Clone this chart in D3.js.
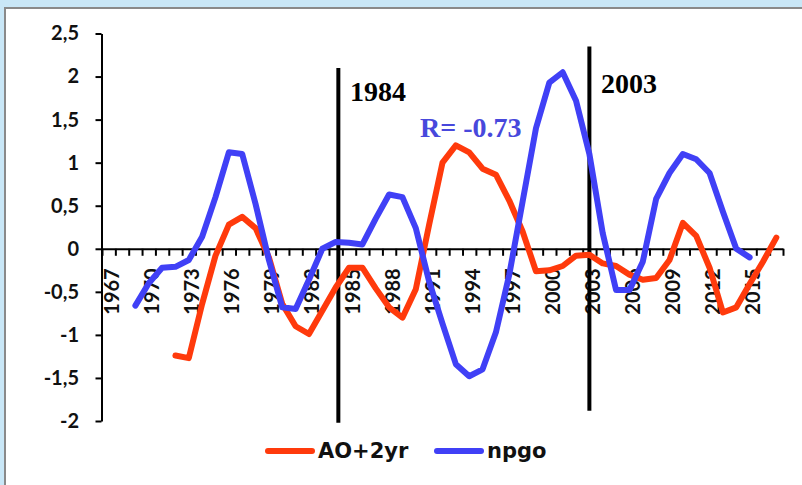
<!DOCTYPE html>
<html>
<head>
<meta charset="utf-8">
<script src="https://cdn.jsdelivr.net/npm/d3@7"></script>
<style>
  html, body { margin: 0; padding: 0; background: #c9e7f7; overflow: hidden; }
  svg { display: block; }
</style>
</head>
<body>
<svg id="chart" width="802" height="485"></svg>
<script>
// years on the category axis
const years = d3.range(1967, 2018);
const labelYears = d3.range(1967, 2016, 3);

// AO shifted by 2 years (starts 1972)
const ao2yr = [null, null, null, null, null,
  -1.24, -1.27, -0.64, -0.08, 0.28, 0.37, 0.24, -0.1, -0.64, -0.9,
  -0.99, -0.72, -0.45, -0.22, -0.22, -0.46, -0.68, -0.8, -0.47, 0.28,
  1.0, 1.2, 1.12, 0.93, 0.86, 0.56, 0.2, -0.26, -0.25, -0.2,
  -0.08, -0.07, -0.17, -0.2, -0.3, -0.36, -0.34, -0.13, 0.3, 0.15,
  -0.22, -0.74, -0.68, -0.41, -0.15, 0.13];

// npgo (1969 - 2015)
const npgo = [null, null,
  -0.66, -0.4, -0.22, -0.21, -0.13, 0.14, 0.6, 1.12, 1.1, 0.52,
  -0.13, -0.68, -0.7, -0.36, 0.0, 0.08, 0.07, 0.05, 0.35, 0.63,
  0.6, 0.24, -0.38, -0.87, -1.34, -1.48, -1.4, -0.97, -0.3, 0.55,
  1.4, 1.93, 2.05, 1.72, 1.1, 0.18, -0.48, -0.48, -0.15, 0.58,
  0.88, 1.1, 1.04, 0.88, 0.43, 0.0, -0.1, null, null];

const yTicks = [-2, -1.5, -1, -0.5, 0, 0.5, 1, 1.5, 2, 2.5];

// hand drawn break lines: year, top value, bottom value
const breakYears = [1984.2, 2003];
const breakTop = [2.1, 2.35];
const breakBottom = [-2.02, -1.88];

const red = "#ff3a0c", blue = "#4040f6";

const svg = d3.select("#chart");

// white panel
svg.append("rect")
  .attr("x", 5).attr("y", 8)
  .attr("width", 810).attr("height", 490)
  .attr("fill", "#fff")
  .attr("stroke", "#8a8a8a").attr("stroke-width", 2);

const x = d3.scaleLinear().domain([1966.5, 2017.5]).range([102, 783]);
const y = d3.scaleLinear().domain([-2, 2.5]).range([421, 33.5]);

const loc = d3.formatLocale({decimal: ",", thousands: ".", grouping: [3], currency: ["", ""], minus: "-"});
const fmt = loc.format("~g");

// y axis
const gy = svg.append("g")
  .attr("transform", "translate(101.5,0)")
  .call(d3.axisLeft(y).tickValues(yTicks).tickSize(6).tickSizeOuter(0).tickPadding(16.5).tickFormat(fmt));
gy.selectAll("path, line").attr("stroke", "#000").attr("stroke-width", 2);
gy.selectAll("text")
  .style("font-family", "Lato, 'Open Sans', sans-serif")
  .style("font-weight", "bold")
  .style("font-size", "20px")
  .attr("fill", "#111");

// x axis ticks at year boundaries
const gx = svg.append("g")
  .attr("transform", "translate(0," + y(0) + ")")
  .call(d3.axisBottom(x).tickValues(d3.range(1966.5, 2018, 1)).tickSize(7).tickSizeOuter(0).tickFormat(""));
gx.selectAll("path, line").attr("stroke", "#000").attr("stroke-width", 2);

// rotated year labels
const gl = svg.append("g")
  .attr("transform", "translate(0," + y(0) + ")")
  .call(d3.axisBottom(x).tickValues(labelYears).tickSize(0).tickFormat(d3.format("d")));
gl.select(".domain").remove();
gl.selectAll("text")
  .attr("transform", "rotate(-90)")
  .attr("text-anchor", "end")
  .attr("x", -19.5)
  .attr("y", 10)
  .attr("dy", 0)
  .style("font-family", "Lato, 'Open Sans', sans-serif")
  .style("font-weight", "bold")
  .style("font-size", "20px")
  .attr("fill", "#111");

// break lines
breakYears.forEach(function(b, i) {
  svg.append("line")
    .attr("x1", x(b)).attr("x2", x(b))
    .attr("y1", y(breakTop[i])).attr("y2", y(breakBottom[i]))
    .attr("stroke", "#000").attr("stroke-width", 4);
});

const line = d3.line()
  .defined(d => d[1] !== null)
  .x(d => x(d[0]))
  .y(d => y(d[1]));

svg.append("path")
  .datum(years.map((yr, i) => [yr, ao2yr[i]]))
  .attr("d", line)
  .attr("fill", "none").attr("stroke", red)
  .attr("stroke-width", 6).attr("stroke-linejoin", "round").attr("stroke-linecap", "round");

svg.append("path")
  .datum(years.map((yr, i) => [yr, npgo[i]]))
  .attr("d", line)
  .attr("fill", "none").attr("stroke", blue)
  .attr("stroke-width", 6).attr("stroke-linejoin", "round").attr("stroke-linecap", "round");

// annotations
const serif = "'Liberation Serif', 'Times New Roman', serif";
svg.append("text").attr("x", 350).attr("y", 101).text("1984")
  .style("font-family", serif).style("font-weight", "bold").style("font-size", "28px").attr("fill", "#000");
svg.append("text").attr("x", 601).attr("y", 93).text("2003")
  .style("font-family", serif).style("font-weight", "bold").style("font-size", "28px").attr("fill", "#000");
svg.append("text").attr("x", 420).attr("y", 137).text("R= -0.73")
  .style("font-family", serif).style("font-weight", "bold").style("font-size", "28px").attr("fill", "#4848dc");

// legend
const legend = [
  {name: "AO+2yr", color: red, x: 268},
  {name: "npgo", color: blue, x: 437}
];
const lg = svg.append("g");
legend.forEach(function(l) {
  lg.append("line")
    .attr("x1", l.x).attr("x2", l.x + 44)
    .attr("y1", 451).attr("y2", 451)
    .attr("stroke", l.color).attr("stroke-width", 6).attr("stroke-linecap", "round");
  lg.append("text")
    .attr("x", l.x + 50).attr("y", 458)
    .text(l.name)
    .style("font-family", "'DejaVu Sans', sans-serif")
    .style("font-weight", "bold")
    .style("font-size", "21px")
    .attr("fill", "#111");
});
</script>
</body>
</html>
